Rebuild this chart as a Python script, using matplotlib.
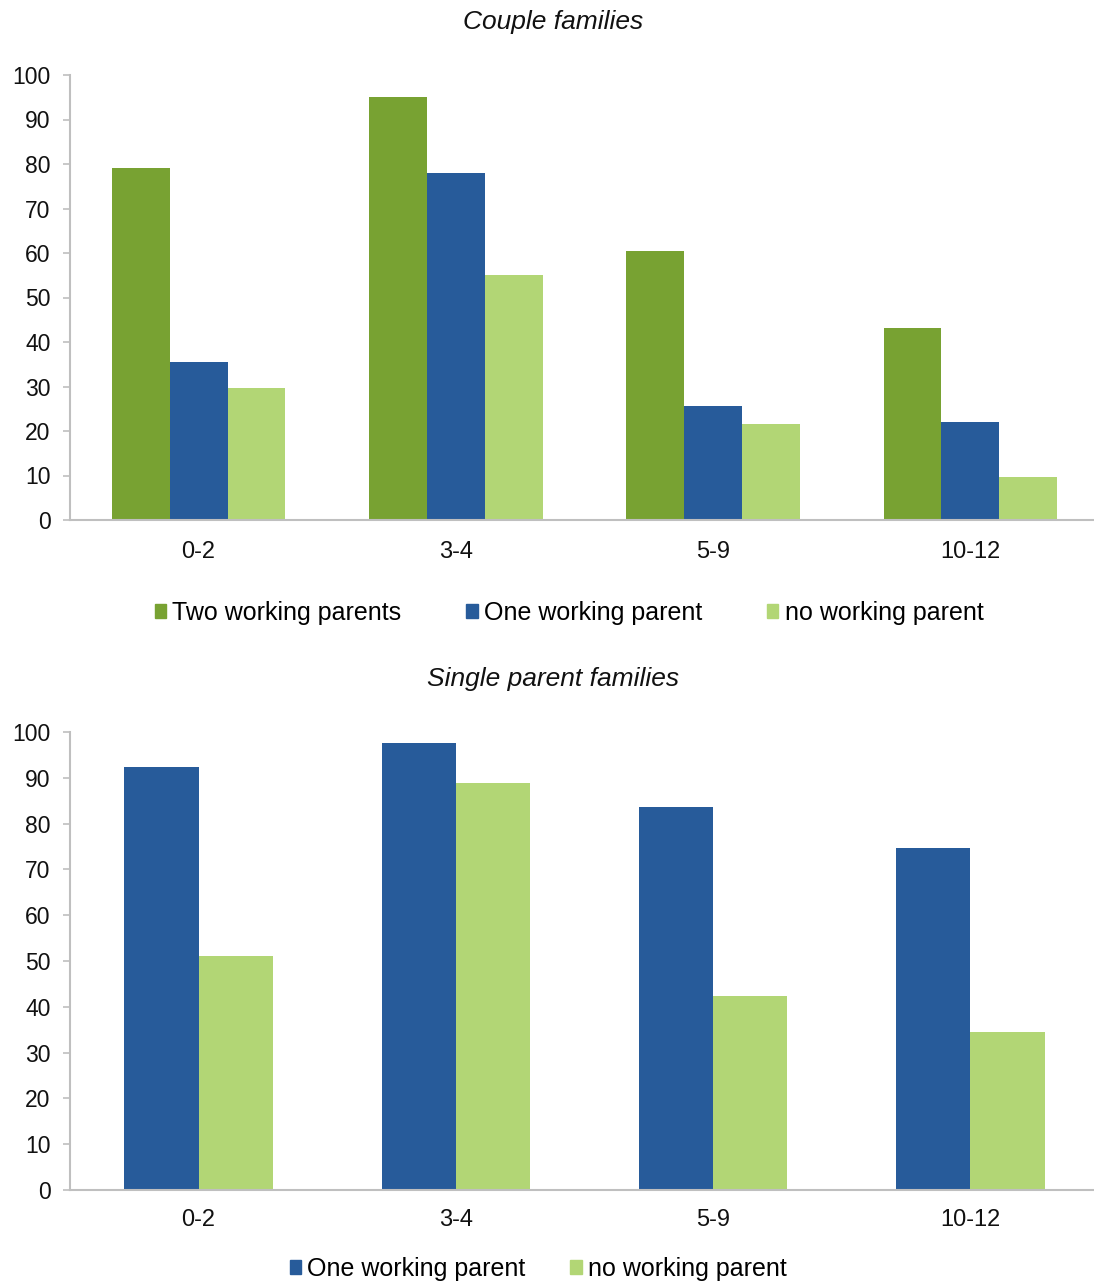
import numpy as np
import matplotlib.pyplot as plt
from matplotlib.patches import Patch

plt.rcParams["font.family"] = ["Liberation Sans", "DejaVu Sans"]

# data
ages = ["0-2", "3-4", "5-9", "10-12"]
couple_two = [79, 95, 60.5, 43.2]
couple_one = [35.5, 78, 25.7, 22.1]
couple_none = [29.6, 55.1, 21.6, 9.6]
single_one = [92.3, 97.5, 83.6, 74.6]
single_none = [51, 88.9, 42.3, 34.5]

green = "#78A232"
blue = "#275B9A"
light = "#B2D675"
axis_grey = "#BFBFBF"
text_col = "#111111"

W, H = 1094, 1283


def px_axes(fig, left, top, right, bottom):
    return fig.add_axes([left / W, 1 - bottom / H, (right - left) / W, (bottom - top) / H])


def style_axes(ax, xpad):
    ax.set_xlim(-0.5, len(ages) - 0.5)
    ax.set_ylim(0, 100)
    ax.set_yticks(np.arange(0, 101, 10))
    ax.set_xticks(np.arange(len(ages)))
    ax.set_xticklabels(ages)
    for s in ["top", "right"]:
        ax.spines[s].set_visible(False)
    for s in ["left", "bottom"]:
        ax.spines[s].set_color(axis_grey)
        ax.spines[s].set_linewidth(1.5)
    ax.tick_params(axis="y", length=5, width=1.2, color=axis_grey, pad=9,
                   labelsize=16.5, labelcolor=text_col)
    ax.tick_params(axis="x", length=0, pad=xpad, labelsize=17, labelcolor=text_col)


fig = plt.figure(figsize=(W / 100, H / 100), dpi=100)
x = np.arange(len(ages))

# couple families
ax1 = px_axes(fig, 70, 75, 1099, 520)
bw = 0.225
ax1.bar(x - bw, couple_two, bw, color=green)
ax1.bar(x, couple_one, bw, color=blue)
ax1.bar(x + bw, couple_none, bw, color=light)
style_axes(ax1, 15)
fig.text(553 / W, 1 - 22 / H, "Couple families", ha="center", va="center",
         fontsize=19, style="italic", color=text_col)

handles1 = [Patch(color=green), Patch(color=blue), Patch(color=light)]
fig.legend(handles1, ["Two working parents", "One working parent", "no working parent"],
           loc="center", bbox_to_anchor=(569 / W, 1 - 613 / H), ncol=3, frameon=False,
           fontsize=18, handlelength=0.45, handleheight=0.45, handletextpad=0.25,
           columnspacing=2.6, borderpad=0)

# single parent families
ax2 = px_axes(fig, 70, 732, 1099, 1190)
bw2 = 0.289
ax2.bar(x - bw2 / 2, single_one, bw2, color=blue)
ax2.bar(x + bw2 / 2, single_none, bw2, color=light)
style_axes(ax2, 14)
fig.text(553 / W, 1 - 679 / H, "Single parent families", ha="center", va="center",
         fontsize=19, style="italic", color=text_col)

handles2 = [Patch(color=blue), Patch(color=light)]
fig.legend(handles2, ["One working parent", "no working parent"],
           loc="center", bbox_to_anchor=(538 / W, 1 - 1269 / H), ncol=2, frameon=False,
           fontsize=18, handlelength=0.45, handleheight=0.45, handletextpad=0.25,
           columnspacing=1.8, borderpad=0)

fig.savefig("out.png", dpi=100)
plt.close(fig)
